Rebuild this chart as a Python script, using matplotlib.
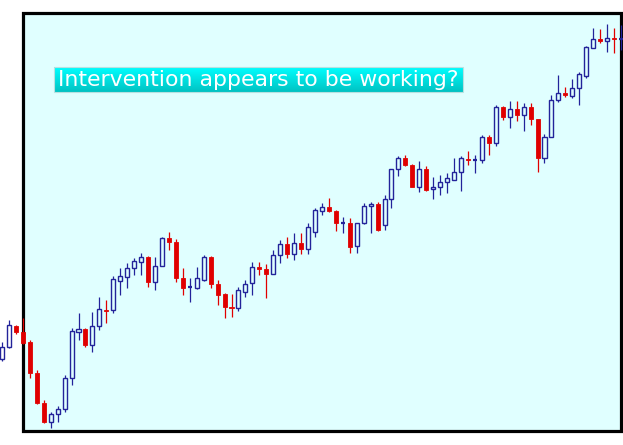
import numpy as np
import matplotlib
matplotlib.use("Agg")
import matplotlib.pyplot as plt
from matplotlib.patches import Rectangle

# OHLC per session (arbitrary price units)
opens = [86, 98, 119, 113, 103, 72, 42, 23, 31, 36, 67, 113, 116, 100, 119, 135.5,
         135, 164, 168, 177, 183, 188, 163, 179, 207, 203, 167, 158, 157, 165, 188,
         161, 151, 138.5, 137, 153, 162, 178, 176, 171, 190, 201, 191, 202, 196,
         213, 234, 238, 234, 222, 222, 199, 222, 239, 241, 220, 246, 276, 287, 280,
         258, 276, 256, 258, 263, 265, 273, 286.5, 285, 285, 308, 302, 338, 328,
         336, 330, 338, 326, 287, 308, 345, 352, 349, 357, 369, 397, 406, 404, 407,
         406]
highs = [103, 125, 120, 127, 105, 75, 45, 33, 39, 70, 117, 132, 117, 133, 148, 145,
         169, 177, 182, 187, 192, 189, 188, 208, 213, 206, 177, 167, 178, 190, 189,
         165, 152, 151, 158, 165, 183, 183, 181, 195, 205, 208, 212, 212, 222,
         237, 242, 247, 235, 228, 227, 222, 242, 243, 243, 250, 276, 289, 290, 281,
         284, 279, 268, 270, 272, 287, 289, 294, 290, 310, 310, 340, 339, 344,
         344, 342, 342, 326, 311, 350, 370, 358, 366, 373, 399, 417, 416, 421, 417,
         420]
lows = [84, 97, 111, 101, 67, 41, 22, 17, 23, 33, 60, 105, 98, 93, 115, 122,
        132, 150, 157, 170, 170, 158, 155, 179, 195, 163, 150, 143, 156, 164, 157,
        140, 127, 128, 134, 148, 150, 170, 147, 171, 182, 187, 185, 191, 191,
        208, 230, 233, 214, 212, 192, 192, 221, 212, 214, 215, 237, 269, 279, 258,
        253, 254, 246, 250, 252, 265, 254, 280, 272, 282, 290, 299, 325, 317,
        324, 314, 320, 273, 282, 308, 343, 348, 347, 340, 367, 397, 402, 393, 392,
        395]
closes = [98, 120, 113, 102, 72, 42, 23, 31, 36, 67, 114, 116, 100, 119, 136, 134.5,
          166, 169, 177, 184, 188, 163, 179, 207, 203, 167, 157, 158, 167, 188, 161,
          150, 138, 137.5, 155, 161, 178, 176, 171, 190, 201, 191, 202, 196, 218,
          235, 238, 234, 222, 222, 198, 222, 239, 241, 215, 246, 276, 287, 280, 258,
          276, 255, 258, 263, 267, 273, 287, 285.5, 285, 308, 302, 338, 328, 336,
          330, 338, 326, 287, 308, 345, 352, 350, 357, 371, 398, 406, 404, 407, 406,
          406]

caption = "Intervention appears to be working?"

UP = "#23239a"
DOWN = "#e00000"
BG = "#e0ffff"
W = 0.58  # body width in sessions

fig = plt.figure(figsize=(6.23, 4.45), dpi=100)
ax = fig.add_axes([0, 0, 1, 1])
ax.set_axis_off()

# framed plotting panel (the first candles spill out to the left of it)
ax.add_patch(Rectangle((0.0369, 0.0315), 0.9599, 0.9382, transform=ax.transAxes,
                       facecolor=BG, edgecolor="black", lw=2.3, zorder=1))

for i, (o, h, l, c) in enumerate(zip(opens, highs, lows, closes)):
    top, bot = max(o, c), min(o, c)
    col = DOWN if c < o else UP
    ax.vlines(i, top, h, color=col, lw=0.9, zorder=3)
    ax.vlines(i, l, bot, color=col, lw=0.9, zorder=3)
    if c == o:
        ax.hlines(o, i - W / 2, i + W / 2, color=UP, lw=1.6, zorder=4)
    elif c < o:
        ax.add_patch(Rectangle((i - W / 2, bot), W, top - bot, facecolor=DOWN,
                               edgecolor=DOWN, lw=0.6, zorder=4))
    else:
        ax.add_patch(Rectangle((i - W / 2, bot), W, top - bot, facecolor="none",
                               edgecolor=UP, lw=1.0, zorder=4))

# caption box with a cyan gradient
grad = np.linspace(1, 0, 50).reshape(-1, 1)
cmap = matplotlib.colors.LinearSegmentedColormap.from_list("cy", ["#00c2c2", "#00ffff"])
ax.imshow(grad, cmap=cmap, aspect="auto", transform=ax.transAxes,
          extent=[0.0867, 0.7432, 0.7933, 0.8494], zorder=5)
ax.add_patch(Rectangle((0.0867, 0.7933), 0.6565, 0.0561, transform=ax.transAxes,
                       facecolor="none", edgecolor="#b8e0e0", lw=0.8, zorder=6))
ax.text(0.0931, 0.8195, caption, transform=ax.transAxes, color="white",
        fontsize=15.8, family="DejaVu Sans", ha="left", va="center", zorder=7)

# candle i sits at pixel 2 + 6.955 * i
ax.set_xlim(-2 / 6.955, 621 / 6.955)
ax.set_ylim(0, 445)

fig.savefig("out.png", dpi=100, facecolor="white")
